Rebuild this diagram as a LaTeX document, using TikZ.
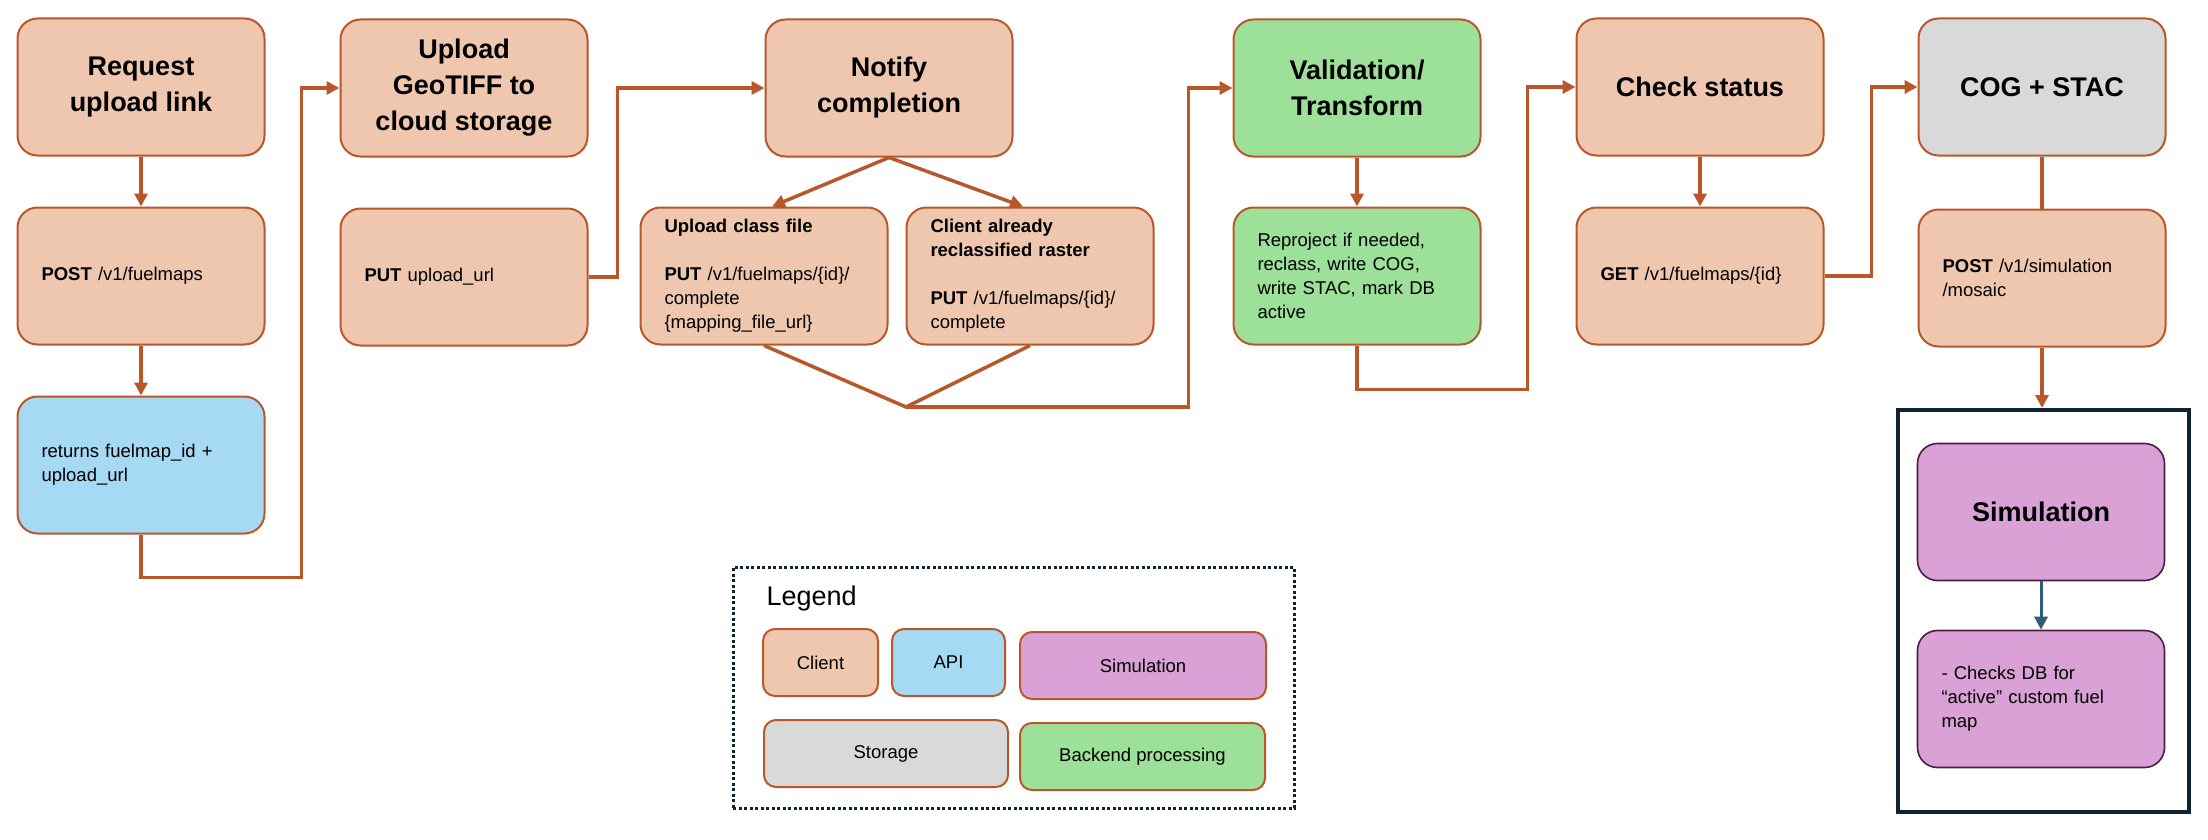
\documentclass[tikz,border=0pt]{standalone}
\usepackage{fontspec}
\setmainfont{Liberation Sans}
\usepackage{tikz}
\usetikzlibrary{arrows.meta,calc}
\definecolor{clientfill}{HTML}{EEC7AE}
\definecolor{apifill}{HTML}{A6D9F3}
\definecolor{simfill}{HTML}{DAA1D6}
\definecolor{storefill}{HTML}{D9D9D9}
\definecolor{backfill}{HTML}{9CE09A}
\definecolor{flowline}{HTML}{B8582A}
\definecolor{simline}{HTML}{4B1E48}
\definecolor{navy}{HTML}{0E2433}
\definecolor{simarrow}{HTML}{2C5E7E}
\tikzset{>={Triangle[length=13pt,width=13pt]}}
\tikzset{
    box/.style={rectangle,rounded corners=20pt,draw=flowline,line width=2pt,minimum width=247pt,minimum height=137pt,inner sep=0pt},
    client/.style={box,fill=clientfill},
    backend/.style={box,fill=backfill},
    storage/.style={box,fill=storefill},
    api/.style={box,fill=apifill},
    simbox/.style={box,fill=simfill,draw=simline,line width=1.6pt},
    title/.style={font=\bfseries\fontsize{27}{36}\selectfont,align=center},
    body/.style={font=\fontsize{18.5}{24}\selectfont,align=left,text width=199pt,inner xsep=24pt},
    flow/.style={draw=flowline,line width=3.5pt,->},
    plainflow/.style={draw=flowline,line width=3.5pt},
    key/.style={rectangle,rounded corners=12pt,draw=flowline,line width=2pt,minimum height=67pt,font=\fontsize{18.5}{24}\selectfont},
}

\begin{document}
\begin{tikzpicture}[x=1pt,y=-1pt]
        \useasboundingbox (0,0) rectangle (2208,840);
        \node[client,title] (req) at (141,87) {Request\\upload link};
        \node[client,body] (post) at (141,276) {\textbf{POST} /v1/fuelmaps};
        \node[api,body] (ret) at (141,465) {returns fuelmap\_id +\\upload\_url};
        \node[client,title] (upl) at (464,88) {Upload\\GeoTIFF to\\cloud storage};
        \node[client,body] (put) at (464,277) {\textbf{PUT} upload\_url};
        \node[client,title] (ntf) at (889,88) {Notify\\completion};
        \node[client,body] (ucf) at (764,276) {\textbf{Upload class file}\\[24pt]\textbf{PUT} /v1/fuelmaps/\{id\}/\\complete\\\{mapping\_file\_url\}};
        \node[client,body] (cli) at (1030,276) {\textbf{Client already}\\\textbf{reclassified raster}\\[24pt]\textbf{PUT} /v1/fuelmaps/\{id\}/\\complete};
        \node[backend,title] (val) at (1357,88) {Validation/\\Transform};
        \node[backend,body] (rep) at (1357,276) {Reproject if needed,\\reclass, write COG,\\write STAC, mark DB\\active};
        \node[client,title] (chk) at (1700,87) {Check status};
        \node[client,body] (get) at (1700,276) {\textbf{GET} /v1/fuelmaps/\{id\}};
        \node[storage,title] (cog) at (2042,87) {COG + STAC};
        \node[client,body] (pst) at (2042,278) {\textbf{POST} /v1/simulation\\/mosaic};
        \node[draw=navy,line width=4pt,minimum width=291pt,minimum height=402pt] (frame) at (2043.5,611) {};
        \node[simbox,title] (sim) at (2041,512) {Simulation};
        \node[simbox,body] (chkdb) at (2041,699) {- Checks DB for\\“active” custom fuel\\map};

        \draw[flow] (req.south) -- (post.north);
        \draw[flow] (post.south) -- (ret.north);
        \draw[flow] (ret.south) -- ++(0,43) -| ($(upl.west)+(-38,0)$) -- (upl.west);
        \draw[flow] (put.east) -| ($(ntf.west)+(-147,0)$) -- (ntf.west);
        \draw[flow] (ntf.south) -- ($(ucf.north)+(8,0)$);
        \draw[flow] (ntf.south) -- ($(cli.north)+(-7,0)$);
        \coordinate (join) at (906,407);
        \draw[plainflow] (ucf.south) -- (join) -- (cli.south);
        \draw[flow] (join) -| ($(val.west)+(-44,0)$) -- (val.west);
        \draw[flow] (val.south) -- (rep.north);
        \draw[flow] (rep.south) -- ++(0,44) -| ($(chk.west)+(-48,0)$) -- (chk.west);
        \draw[flow] (chk.south) -- (get.north);
        \draw[flow] (get.east) -| ($(cog.west)+(-46,0)$) -- (cog.west);
        \draw[plainflow] (cog.south) -- (pst.north);
        \draw[flow] (pst.south) -- (pst.south |- frame.north);
        \draw[->,simarrow,line width=3pt] (sim.south) -- (chkdb.north);

        \node[draw=navy,line width=3pt,dash pattern=on 3pt off 2.5pt,minimum width=561pt,minimum height=241pt] (legend) at (1013.5,687.5) {};
        \node[anchor=base west,font=\fontsize{27}{32}\selectfont] (legendtitle) at (763,605) {Legend};
        \node[key,fill=clientfill,minimum width=115pt] (kclient) at (820.5,662.5) {Client};
        \node[key,fill=apifill,minimum width=113pt] (kapi) at (948.5,662.5) {API};
        \node[key,fill=simfill,minimum width=246pt] (ksim) at (1143,665.5) {Simulation};
        \node[key,fill=storefill,minimum width=244pt] (kstore) at (886,753.5) {Storage};
        \node[key,fill=backfill,minimum width=245pt] (kback) at (1142.5,756.5) {Backend processing};
\end{tikzpicture}
\end{document}
